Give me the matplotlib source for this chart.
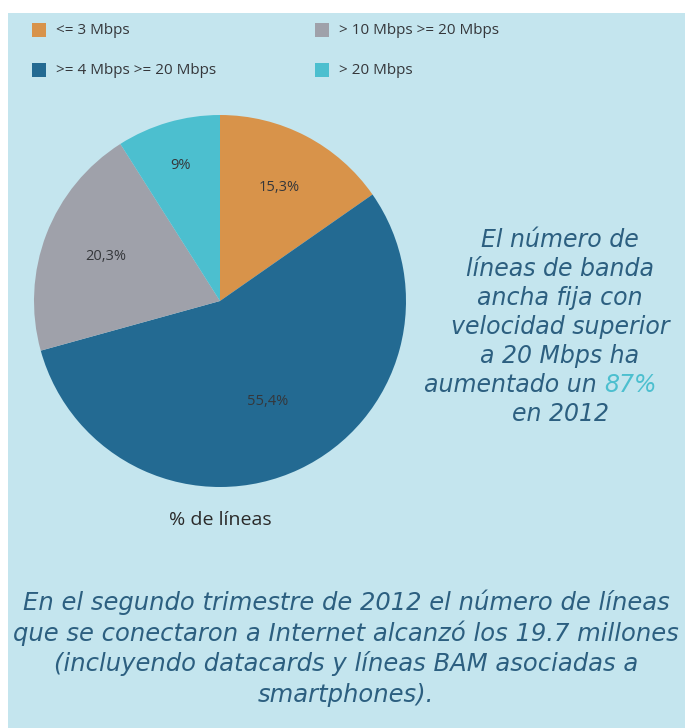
import numpy as np
import matplotlib.pyplot as plt
from matplotlib.patches import Rectangle

# data
categories = ['<= 3 Mbps', '>= 4 Mbps >= 20 Mbps', '> 10 Mbps >= 20 Mbps', '> 20 Mbps']
shares = [15.3, 55.4, 20.3, 9.0]
share_labels = ['15,3%', '55,4%', '20,3%', '9%']
colors = ['#d8934a', '#236a92', '#9fa1aa', '#4cbfcf']

side_text = ['El número de', 'líneas de banda', 'ancha fija con',
             'velocidad superior', 'a 20 Mbps ha', 'aumentado un ', 'en 2012']
highlight = '87%'
bottom_text = ['En el segundo trimestre de 2012 el número de líneas',
               'que se conectaron a Internet alcanzó los 19.7 millones',
               '(incluyendo datacards y líneas BAM asociadas a',
               'smartphones).']

W, H = 685, 728
bg = '#c4e5ee'
txt_col = '#2c5f80'

fig = plt.figure(figsize=(W / 100, H / 100), dpi=100, facecolor='white')
fig.patches.append(Rectangle((8 / W, 0), 1, 1 - 13 / H, transform=fig.transFigure,
                             facecolor=bg, edgecolor='none', zorder=-5))

# pie
cx, cy, r = 220, 301, 186
ax = fig.add_axes([(cx - r) / W, 1 - (cy + r) / H, 2 * r / W, 2 * r / H])
ax.patch.set_alpha(0)
wedges, _ = ax.pie(shares, colors=colors, startangle=90, counterclock=False,
                   wedgeprops=dict(linewidth=0))
dist = [0.69, 0.6, 0.66, 0.76]
for w, lab, d in zip(wedges, share_labels, dist):
    ang = np.deg2rad((w.theta1 + w.theta2) / 2)
    ax.text(d * np.cos(ang), d * np.sin(ang), lab, ha='center', va='center',
            fontsize=10.5, color='#35373b', family='Open Sans')
ax.set_xlim(-1, 1)
ax.set_ylim(-1, 1)
ax.set_aspect('equal')
ax.axis('off')

fig.text(cx / W, 1 - 520 / H, '% de líneas', ha='center', va='center',
         fontsize=14, color='#2a2a2a', family='Open Sans')

# legend
leg_pos = [(32, 30), (32, 70), (315, 30), (315, 70)]
for (x, y), cat, c in zip(leg_pos, categories, colors):
    fig.patches.append(Rectangle((x / W, 1 - (y + 7) / H), 14 / W, 14 / H,
                                 transform=fig.transFigure, facecolor=c,
                                 edgecolor='none'))
    fig.text((x + 24) / W, 1 - y / H, cat, ha='left', va='center',
             fontsize=11, color='#35373b', family='Open Sans')

# side note
for i, line in enumerate(side_text):
    y = 240 + i * 29
    if i == 5:
        fig.text(604 / W, 1 - y / H, line, ha='right', va='center',
                 fontsize=17, color=txt_col, family='DejaVu Sans', style='oblique')
        fig.text(604 / W, 1 - y / H, highlight, ha='left', va='center',
                 fontsize=17, color='#4cbfcf', family='DejaVu Sans', style='oblique')
    else:
        fig.text(560 / W, 1 - y / H, line, ha='center', va='center',
                 fontsize=17, color=txt_col, family='DejaVu Sans', style='oblique')

for i, line in enumerate(bottom_text):
    y = 602 + i * 31
    fig.text(346 / W, 1 - y / H, line, ha='center', va='center',
             fontsize=17.5, color=txt_col, family='DejaVu Sans', style='oblique')

fig.savefig('out.png', dpi=100, facecolor='white')
